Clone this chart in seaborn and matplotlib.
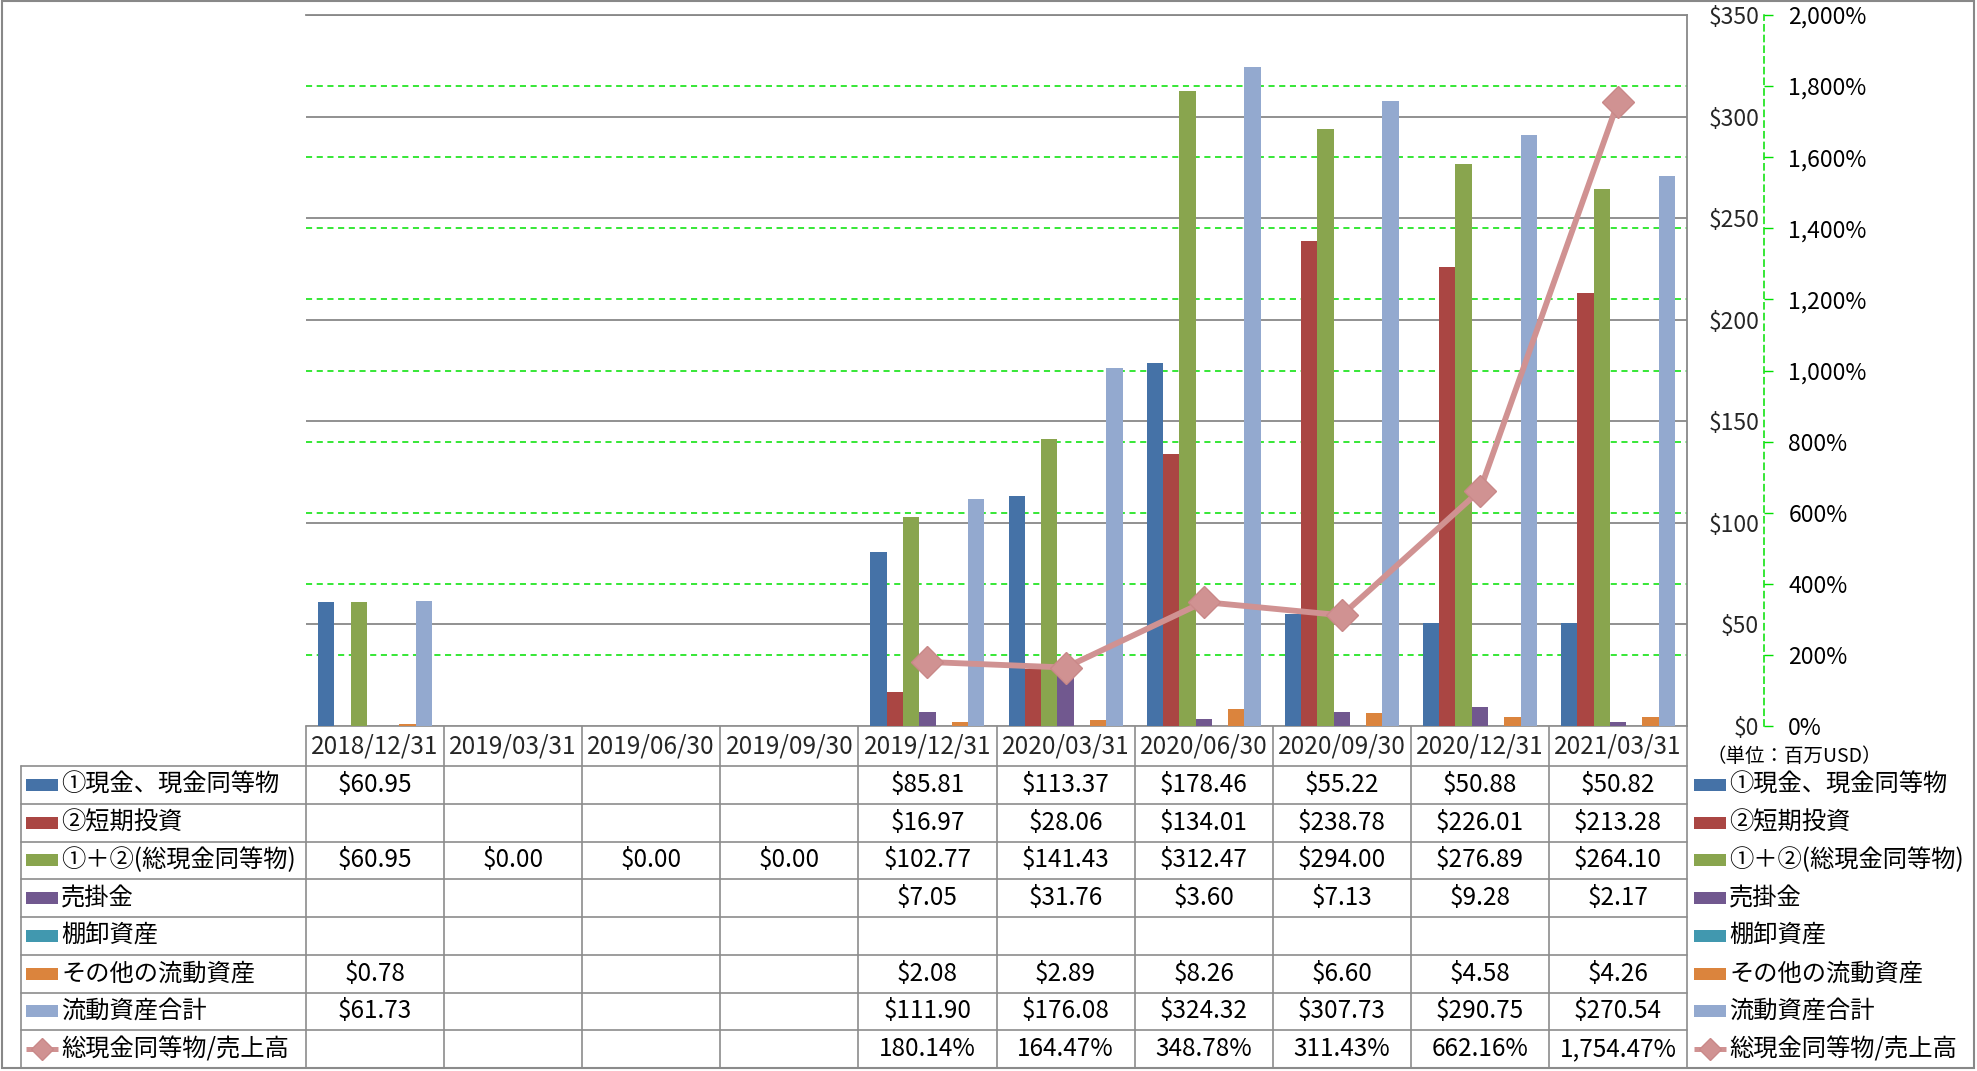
import numpy as np
import pandas as pd
import matplotlib
matplotlib.use('Agg')
import matplotlib.pyplot as plt
import seaborn as sns
from matplotlib.patches import Rectangle
from matplotlib.ticker import FuncFormatter

nan = np.nan

# ---------------- data ----------------
dates = ['2018/12/31', '2019/03/31', '2019/06/30', '2019/09/30', '2019/12/31',
         '2020/03/31', '2020/06/30', '2020/09/30', '2020/12/31', '2021/03/31']
cash = [60.95, nan, nan, nan, 85.81, 113.37, 178.46, 55.22, 50.88, 50.82]
short_inv = [nan, nan, nan, nan, 16.97, 28.06, 134.01, 238.78, 226.01, 213.28]
total_cash = [60.95, 0.00, 0.00, 0.00, 102.77, 141.43, 312.47, 294.00, 276.89, 264.10]
receivables = [nan, nan, nan, nan, 7.05, 31.76, 3.60, 7.13, 9.28, 2.17]
inventory = [nan, nan, nan, nan, nan, nan, nan, nan, nan, nan]
other_ca = [0.78, nan, nan, nan, 2.08, 2.89, 8.26, 6.60, 4.58, 4.26]
total_ca = [61.73, nan, nan, nan, 111.90, 176.08, 324.32, 307.73, 290.75, 270.54]
ratio = [nan, nan, nan, nan, 180.14, 164.47, 348.78, 311.43, 662.16, 1754.47]

series_names = ['①現金、現金同等物', '②短期投資', '①＋②(総現金同等物)', '売掛金',
                '棚卸資産', 'その他の流動資産', '流動資産合計']
series_values = [cash, short_inv, total_cash, receivables, inventory, other_ca, total_ca]
ratio_name = '総現金同等物/売上高'
unit_label = '（単位：百万USD）'

primary_ticks = [0, 50, 100, 150, 200, 250, 300, 350]
secondary_ticks = [0, 200, 400, 600, 800, 1000, 1200, 1400, 1600, 1800, 2000]

colors = ['#4572A7', '#AA4643', '#89A54E', '#71588F', '#4198AF', '#DB843D', '#93A9CF']
line_color = '#D09292'
grid_gray = '#888888'
green = '#00E000'

# ---------------- style ----------------
sns.set_style('white')
plt.rcParams['font.family'] = ['Noto Sans CJK JP', 'DejaVu Sans']
plt.rcParams['text.color'] = 'black'

W, H = 1977, 1071
fig = plt.figure(figsize=(W / 100, H / 100), dpi=100)

PL, PR, PT, PB = 306, 1687, 15, 726
FS = 17.5
TFS = 16.5

# overlay in pixel coordinates (for table / legends / frame)
ov = fig.add_axes([0, 0, 1, 1], zorder=-1)
ov.set_xlim(0, W)
ov.set_ylim(H, 0)
ov.axis('off')

ax = fig.add_axes([PL / W, 1 - PB / H, (PR - PL) / W, (PB - PT) / H])

rows = []
for name, vals in zip(series_names, series_values):
    for d, v in zip(dates, vals):
        rows.append({'date': d, 'series': name, 'value': v})
df = pd.DataFrame(rows)

sns.barplot(data=df, x='date', y='value', hue='series', order=dates,
            hue_order=series_names, palette=colors, width=0.826,
            errorbar=None, saturation=1, linewidth=0, legend=False, ax=ax)

ax.set_ylim(0, 350)
ax.set_yticks(primary_ticks)
ax.yaxis.set_major_formatter(FuncFormatter(lambda v, p: f'${v:,.0f}'))
ax.yaxis.grid(True, color=grid_gray, linewidth=1.3)
ax.set_axisbelow(True)
for t in secondary_ticks[1:-1]:
    ax.axhline(t * 350 / 2000, color=green, ls=(0, (4, 3)), lw=1.1, zorder=0.6)

for s in ['left', 'bottom']:
    ax.spines[s].set_visible(False)
for s in ['top', 'right']:
    ax.spines[s].set_color(grid_gray)
    ax.spines[s].set_linewidth(1.3)

ax.set_xticks(range(len(dates)))
ax.set_xticklabels(dates)
ax.tick_params(axis='x', length=0, pad=14.4, labelsize=FS)
plt.setp(ax.get_xticklabels(), va='center')
ax.set_xlabel('')
ax.set_ylabel('')

# secondary axis with ratio line
ax2 = ax.twinx()
line_df = pd.DataFrame({'pos': list(range(len(dates))), 'ratio': ratio}).dropna()
sns.lineplot(data=line_df, x='pos', y='ratio', ax=ax2, color=line_color,
             linewidth=4.2, marker='D', markersize=16, markeredgecolor='#C98888',
             markeredgewidth=1, legend=False)
ax2.set_ylim(0, 2000)
ax2.set_yticks(secondary_ticks)
ax2.yaxis.set_major_formatter(FuncFormatter(lambda v, p: f'{v:,.0f}%'))
for s in ['top', 'left', 'bottom']:
    ax2.spines[s].set_visible(False)
ax2.spines['right'].set_position(('outward', 77 * 0.72))
ax2.spines['right'].set_linestyle((0, (4, 3)))
ax2.spines['right'].set_color(green)
ax2.spines['right'].set_linewidth(1.1)
ax2.tick_params(axis='y', color=green, labelcolor='black', length=6.5, width=1,
                pad=11, direction='out', labelsize=TFS)
ax2.set_xlabel('')
ax2.set_ylabel('')

# primary y labels on the right side, right-aligned next to the secondary axis
ax.yaxis.tick_right()
ax.tick_params(axis='y', left=False, right=False, labelleft=False, labelright=True,
               length=0, pad=52.0, labelsize=TFS)
plt.setp(ax.yaxis.get_majorticklabels(), ha='right')
ax.set_xlim(-0.5, len(dates) - 0.5)

# ---------------- data table ----------------
tcol = '#8C8C8C'
tlw = 1.2
colw = (PR - PL) / len(dates)
HDR_B = 766
RH = 37.75
nrows = len(series_names) + 1
TB = HDR_B + nrows * RH

ov.plot([PL, PR], [PB, PB], color=tcol, lw=tlw)
for i in range(nrows + 1):
    y = HDR_B + i * RH
    ov.plot([21, PR], [y, y], color=tcol, lw=tlw)
for k in range(len(dates) + 1):
    x = PL + k * colw
    ov.plot([x, x], [PB, TB], color=tcol, lw=tlw)
ov.plot([21, 21], [HDR_B, TB], color=tcol, lw=tlw)

all_rows = series_values + [ratio]
for i, vals in enumerate(all_rows):
    yc = HDR_B + (i + 0.5) * RH
    for k, v in enumerate(vals):
        if np.isnan(v):
            continue
        txt = f'{v:,.2f}%' if i == nrows - 1 else f'${v:,.2f}'
        ov.text(PL + (k + 0.5) * colw, yc, txt, ha='center', va='center', fontsize=FS)


def legend_entries(x0, xt):
    for i in range(nrows):
        yc = HDR_B + (i + 0.5) * RH
        if i < len(series_names):
            ov.add_patch(Rectangle((x0, yc - 6), 32, 12, color=colors[i], lw=0))
            label = series_names[i]
        else:
            ov.plot([x0, x0 + 32], [yc, yc], color=line_color, lw=3.6,
                    solid_capstyle='butt')
            ov.plot([x0 + 16], [yc], marker='D', markersize=11, color=line_color,
                    markeredgecolor='#C98888')
            label = ratio_name
        ov.text(xt, yc, label, ha='left', va='center', fontsize=FS)


legend_entries(26, 61)
legend_entries(1694, 1729)

ov.text(1706, 757, unit_label, ha='left', va='center', fontsize=14)

# outer frame
ov.add_patch(Rectangle((2, 1), W - 5, H - 4, fill=False, ec=grid_gray, lw=1.5))

fig.savefig('out.png', dpi=100)
